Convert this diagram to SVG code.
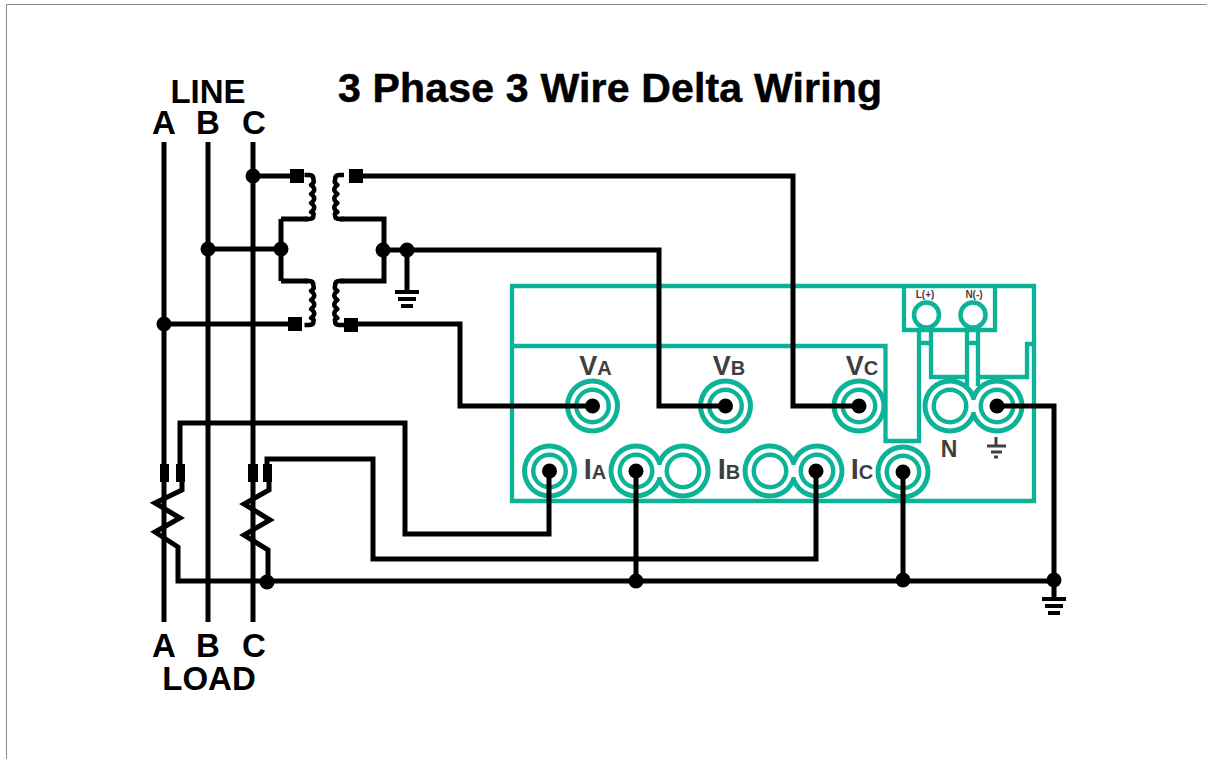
<svg xmlns="http://www.w3.org/2000/svg" width="1207" height="759" viewBox="0 0 1207 759">
<style>
.t{font-family:"Liberation Sans",Arial,sans-serif;font-weight:700;fill:#000;text-anchor:middle}
.g{font-family:"Liberation Sans",Arial,sans-serif;font-weight:700;fill:#3f3f41;text-anchor:middle}
.w{fill:none;stroke:#000;stroke-width:5;stroke-linejoin:miter}
.c{fill:none;stroke:#000;stroke-width:4.500;stroke-linejoin:round}
.tl{fill:none;stroke:#0db396;stroke-width:4.300}
.r{fill:#fff;stroke:#0db396;stroke-width:4.500}
.o{fill:#0db396}
.i{fill:#fff}
.d{fill:#000}
</style>
<defs>
<g id="ring"><circle class="o" r="27.500"/><circle class="i" r="22.500"/><circle class="o" r="18.500"/><circle class="i" r="14"/></g>
<g id="pair">
<circle class="o" r="27.500"/><circle class="o" cx="47" r="27.500"/>
<circle class="i" r="22.500"/><circle class="i" cx="47" r="22.500"/><rect class="i" x="0" y="-6" width="47" height="12"/>
<circle class="o" r="18.500"/><circle class="o" cx="47" r="18.500"/>
<circle class="i" r="14"/><circle class="i" cx="47" r="14"/>
</g>
<g id="gnd"><path class="w" style="stroke-width:4" d="M-12 0H12M-9 7H9M-6 14H6"/></g>
<path id="coilR" class="c" d="M-4 0H1Q5 0 5 5Q6 8 2.500 10Q9 14.500 2.500 19Q9 23.500 2.500 28Q9 32.500 2.500 37Q6 38 5 40Q5 44 1 44H-4"/>
<path id="coilL" class="c" d="M4 0H-1Q-5 0-5 5Q-6 8-2.500 10Q-9 14.500-2.500 19Q-9 23.500-2.500 28Q-9 32.500-2.500 37Q-6 38-5 40Q-5 44-1 44H4"/>
</defs>
<rect width="1207" height="759" fill="#fff"/>
<path d="M6.500 759V4.500H1207" fill="none" stroke="#8a8a8a" stroke-width="1"/>

<g id="meter">
<path class="tl" d="M510 286H1034V501H512V286M512 346H885.500V441H919V330M904 286V330H995V286M931 330V377H967V330M978 330V377H1027V344H1034M919 343H931M967 343H978M967 377V386M978 377V386"/>
</g>
<g id="labels-meter">
<text class="g" x="595.500" y="375" font-size="27">V<tspan font-size="20">A</tspan></text>
<text class="g" x="729" y="375" font-size="27">V<tspan font-size="20">B</tspan></text>
<text class="g" x="862" y="375" font-size="27">V<tspan font-size="20">C</tspan></text>
<text class="g" x="595" y="479" font-size="29">I<tspan font-size="20">A</tspan></text>
<text class="g" x="729" y="479" font-size="29">I<tspan font-size="20">B</tspan></text>
<text class="g" x="862" y="479" font-size="29">I<tspan font-size="20">C</tspan></text>
<text class="g" x="949" y="457" font-size="23">N</text>
<text class="g" x="925" y="298" font-size="10">L(+)</text>
<text class="g" x="974" y="298" font-size="10">N(-)</text>
<path d="M996 437V446M987 446H1006M991 452H1002M994 457H998" fill="none" stroke="#3f3f41" stroke-width="3"/>
</g>
<g id="terminal-VA"><use href="#ring" x="592.500" y="406"/></g>
<g id="terminal-VB"><use href="#ring" x="725.500" y="406"/></g>
<g id="terminal-VC"><use href="#ring" x="859" y="406"/></g>
<g id="terminal-IA"><use href="#ring" x="549.500" y="471"/></g>
<g id="terminal-IB-left"><use href="#pair" x="636" y="471"/></g>
<g id="terminal-IB-right"><use href="#pair" x="770" y="471"/></g>
<g id="terminal-IC"><use href="#ring" x="903" y="472"/></g>
<g id="terminal-N"><use href="#pair" x="950" y="406"/></g>
<g id="terminal-power"><circle class="r" cx="926.500" cy="315" r="12.500"/><circle class="r" cx="973" cy="315" r="12.500"/></g>

<g id="connectors">
<path class="w" d="M164 142V622M208 142V622M253 142V622"/>
<path class="w" d="M253 176H297"/>
<path class="w" d="M208 249H281M281 219V281"/>
<path class="w" d="M164 324H295"/>
<path class="w" d="M281 219H308M281 281H308"/>
<path class="w" d="M340 219H384V281H340"/>
<path class="w" d="M383 250H659V406H725M407 250V292"/>
<path class="w" d="M355 176H793V406H859"/>
<path class="w" d="M351 324H460V406H592"/>
<path class="w" d="M180 464V423H405V534H549V471"/>
<path class="w" d="M267 464V459H373V559H816V471"/>
<path class="w" d="M636 471V581M903 472V581"/>
<path class="w" d="M996 406H1054V599"/>
<path class="w" d="M182 482V490L155 503 180 518 155 532 178 547V581H1054"/>
<path class="w" d="M269 482V490L244 504 270 520 244 535 268 550V581"/>
<use href="#coilR" x="308.500" y="175"/>
<use href="#coilL" x="340" y="175"/>
<use href="#coilR" x="308.500" y="281"/>
<use href="#coilL" x="340" y="281"/>
<use href="#gnd" x="407" y="292"/>
<use href="#gnd" x="1054" y="599"/>
</g>
<g id="junctions">
<circle class="d" cx="253" cy="176" r="7.500"/><circle class="d" cx="208" cy="249" r="7.500"/><circle class="d" cx="281" cy="249" r="7.500"/><circle class="d" cx="164" cy="324" r="7.500"/><circle class="d" cx="383" cy="250" r="7.500"/><circle class="d" cx="407" cy="250" r="7.500"/>
<circle class="d" cx="267" cy="582" r="7.500"/><circle class="d" cx="636" cy="581" r="7.500"/><circle class="d" cx="903" cy="580" r="7.500"/><circle class="d" cx="1054" cy="580" r="7.500"/>
<circle class="d" cx="592.500" cy="406" r="7.500"/><circle class="d" cx="725.500" cy="406" r="7.500"/><circle class="d" cx="859" cy="406" r="7.500"/><circle class="d" cx="549.500" cy="471" r="7.500"/><circle class="d" cx="636" cy="471" r="7.500"/><circle class="d" cx="816" cy="471" r="7.500"/><circle class="d" cx="903" cy="472" r="7.500"/><circle class="d" cx="997" cy="406" r="7.500"/>
<rect class="d" x="290" y="169" width="14" height="14"/><rect class="d" x="349" y="169" width="14" height="14"/><rect class="d" x="288" y="317" width="14" height="14"/><rect class="d" x="344" y="318" width="14" height="14"/>
<rect class="d" x="160" y="464" width="9" height="18"/><rect class="d" x="176" y="464" width="9" height="18"/><rect class="d" x="248" y="464" width="10" height="18"/><rect class="d" x="263" y="464" width="9" height="18"/>
</g>
<g id="labels">
<text class="t" x="610" y="102" font-size="41" textLength="544" lengthAdjust="spacing" stroke="#000" stroke-width=".5">3 Phase 3 Wire Delta Wiring</text>
<text class="t" x="208" y="103" font-size="33">LINE</text>
<text class="t" x="164" y="134" font-size="33">A</text><text class="t" x="208" y="134" font-size="33">B</text><text class="t" x="254" y="134" font-size="33">C</text>
<text class="t" x="164" y="657" font-size="33">A</text><text class="t" x="208" y="657" font-size="33">B</text><text class="t" x="254" y="657" font-size="33">C</text>
<text class="t" x="209" y="690" font-size="33">LOAD</text>
</g>
</svg>
